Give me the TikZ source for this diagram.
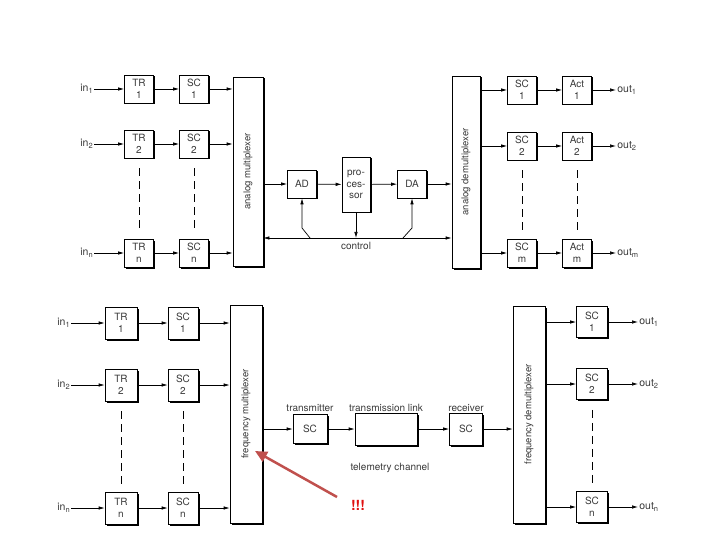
\documentclass[tikz,border=0pt]{standalone}
\usepackage{fontspec}
\setmainfont{TeX Gyre Heros}
\usetikzlibrary{arrows.meta,positioning,calc,shadows}
\definecolor{inkgray}{HTML}{3A3A3A}
\definecolor{warnred}{HTML}{C0504D}
\definecolor{bangred}{HTML}{E01010}
\newcommand{\idx}[1]{\raisebox{-0.35ex}{\fontsize{7.5}{8}\selectfont #1}}

\begin{document}
\begin{tikzpicture}[x=1pt,y=-1pt,line width=0.7pt,
  blk/.style={draw,fill=white,minimum width=29pt,minimum height=28pt,inner sep=0pt,align=center,
    font=\fontsize{10}{11.5}\selectfont,text=inkgray,
    drop shadow={shadow xshift=1.5pt,shadow yshift=-1.5pt,fill=black,opacity=1}},
  fblk/.style={blk,minimum width=32pt,minimum height=32pt},
  lbl/.style={font=\fontsize{9.5}{11}\selectfont,text=inkgray,inner sep=1pt},
  io/.style={lbl,font=\fontsize{10.5}{11}\selectfont,anchor=west},
  arr/.style={-{Latex[length=6pt,width=3.5pt]}},
  vdots/.style={dash pattern=on 8pt off 5pt,shorten <=10pt,shorten >=8pt}]
  \useasboundingbox (0,0) rectangle (720,540);

  % upper: analog multiplexing
  \node[blk,minimum width=30pt,minimum height=189pt,
    label={[lbl,rotate=90]center:analog multiplexer}] (amux) at (248,171.5) {};
  \node[blk,minimum width=28pt,minimum height=192pt,
    label={[lbl,rotate=90]center:analog demultiplexer}] (admux) at (466,172) {};
  \foreach \r/\y in {1/89,2/144,n/253} {
    \node[io] (in\r) at (79,\y) {in\idx{\r}};
    \node[blk] (tr\r) at (139,\y) {TR\\\r};
    \node[blk] (sc\r) at (194,\y) {SC\\\r};
    \draw[arr] (in\r) -- (tr\r);
    \draw[arr] (tr\r) -- (sc\r);
    \draw[arr] (sc\r) -- (sc\r -| amux.west);
  }
  \draw[vdots] (tr2) -- (trn);
  \draw[vdots] (sc2) -- (scn);
  \foreach \r/\y in {1/90,2/146,m/253} {
    \node[blk] (osc\r) at (522,\y) {SC\\\r};
    \node[blk] (act\r) at (577,\y) {Act\\\r};
    \node[io] (out\r) at (616,\y) {out\idx{\r}};
    \draw[arr] (admux.east |- osc\r) -- (osc\r);
    \draw[arr] (osc\r) -- (act\r);
    \draw[arr] (act\r) -- (out\r);
  }
  \draw[vdots] (osc2) -- (oscm);
  \draw[vdots] (act2) -- (actm);

  \node[blk] (ad) at (302,184) {AD};
  \node[blk,minimum width=28pt,minimum height=55pt] (proc) at (356,184.5) {pro-\\ces-\\sor};
  \node[blk] (da) at (412,184) {DA};
  \draw[arr] (amux.east |- ad) -- (ad);
  \draw[arr] (ad) -- (proc);
  \draw[arr] (proc) -- (da);
  \draw[arr] (da) -- (da -| admux.west);

  \coordinate (ctl) at (356,238);
  \draw[{Latex[length=6pt,width=3.5pt]}-{Latex[length=6pt,width=3.5pt]}]
    (amux.east |- ctl) -- (admux.west |- ctl);
  \node[lbl,font=\fontsize{10}{11}\selectfont] (ctllbl) at (356,246) {control};
  \draw[arr] (proc.south) -- (ctl);
  \coordinate (adfoot) at (310,238);
  \coordinate (adknee) at (302,228);
  \draw[arr] (adfoot) -- (adknee) -- (ad.south);
  \coordinate (dafoot) at (403,238);
  \coordinate (daknee) at (412,228);
  \draw[arr] (dafoot) -- (daknee) -- (da.south);

  % lower: frequency multiplexing
  \node[blk,minimum width=32pt,minimum height=218pt,
    label={[lbl,rotate=90]center:frequency multiplexer}] (fmux) at (246,414) {};
  \node[blk,minimum width=32pt,minimum height=217pt,
    label={[lbl,rotate=90]center:frequency demultiplexer}] (fdmux) at (529,414.5) {};
  \foreach \r/\y in {1/323,2/385,n/508} {
    \node[io] (fin\r) at (56,\y) {in\idx{\r}};
    \node[fblk] (ftr\r) at (121,\y) {TR\\\r};
    \node[fblk,minimum width=30pt] (fsc\r) at (183,\y) {SC\\\r};
    \draw[arr] (fin\r) -- (ftr\r);
    \draw[arr] (ftr\r) -- (fsc\r);
    \draw[arr] (fsc\r) -- (fsc\r -| fmux.west);
  }
  \draw[vdots] (ftr2) -- (ftrn);
  \draw[vdots] (fsc2) -- (fscn);
  \foreach \r/\y in {1/322,2/384,n/507} {
    \node[fblk,minimum width=31pt,minimum height=31pt] (fosc\r) at (592,\y) {SC\\\r};
    \node[io] (fout\r) at (638,\y) {out\idx{\r}};
    \draw[arr] (fdmux.east |- fosc\r) -- (fosc\r);
    \draw[arr] (fosc\r) -- (fout\r);
  }
  \draw[vdots] (fosc2) -- (foscn);

  \node[blk,minimum width=34pt,minimum height=29pt] (ttx) at (310,429) {SC};
  \node[blk,minimum width=62pt,minimum height=32pt] (link) at (386,429) {};
  \node[blk,minimum width=33pt,minimum height=32pt] (rcv) at (466,429) {SC};
  \node[lbl,font=\fontsize{10}{11}\selectfont,above=1pt of ttx] (txlbl) {transmitter};
  \node[lbl,font=\fontsize{10}{11}\selectfont,above=0pt of link] (linklbl) {transmission link};
  \node[lbl,font=\fontsize{10}{11}\selectfont,above=0pt of rcv] (rcvlbl) {receiver};
  \node[lbl,font=\fontsize{10}{11}\selectfont] (chanlbl) at (390,468) {telemetry channel};
  \draw[arr] (fmux.east |- ttx) -- (ttx);
  \draw[arr] (ttx) -- (link);
  \draw[arr] (link) -- (rcv);
  \draw[arr] (rcv) -- (rcv -| fdmux.west);

  % pointer
  \coordinate (redtail) at (337,497);
  \coordinate (redtip) at (255,451);
  \draw[warnred,line width=2.5pt,-{Triangle[length=12pt,width=11pt]}] (redtail) -- (redtip);
  \node[font=\bfseries\fontsize{14}{14}\selectfont,text=bangred] (bang) at (358,505) {!!!};
\end{tikzpicture}
\end{document}
